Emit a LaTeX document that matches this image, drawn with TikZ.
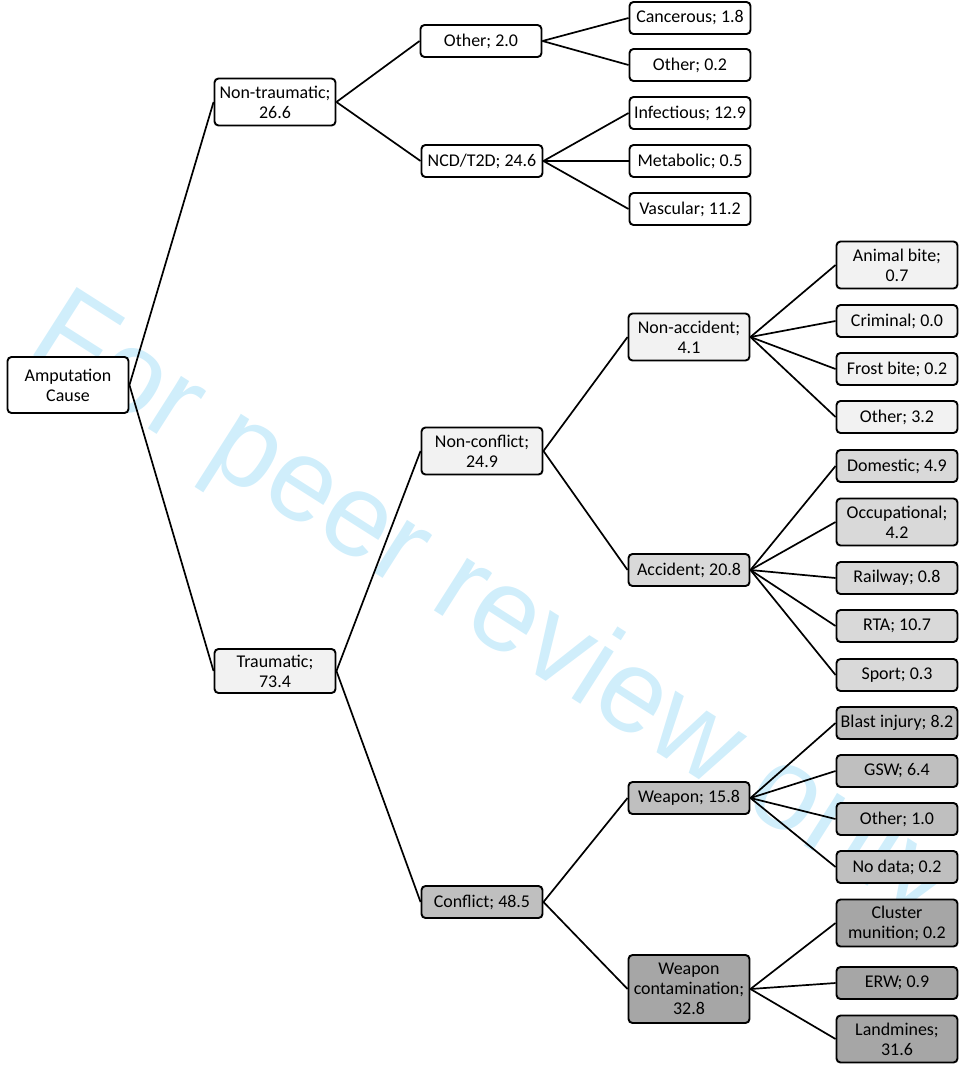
\documentclass[tikz,border=0pt]{standalone}
\usepackage{fontspec}
\setmainfont{Carlito}
\newfontfamily\wmfont{Liberation Sans}
\definecolor{wmblue}{RGB}{208,238,251}
\definecolor{gA}{RGB}{242,242,242}
\definecolor{gB}{RGB}{217,217,217}
\definecolor{gC}{RGB}{191,191,191}
\definecolor{gD}{RGB}{166,166,166}

\begin{document}
\begin{tikzpicture}
[x=1bp,y=-1bp,every node/.style={draw,rounded corners=4bp,line width=1.9bp,fill=white,
 minimum width=121bp,minimum height=32bp,inner sep=1bp,align=center,
 font=\fontsize{18}{20}\selectfont},
 two/.style={minimum height=47bp},three/.style={minimum height=68bp},
 lineA/.style={line width=1.7bp}]
\useasboundingbox (0,0) rectangle (961,1075);
\node[draw=none,fill=none,inner sep=0pt,anchor=base west,rotate=-32.5,text=wmblue,
 font=\wmfont\fontsize{118}{122}\selectfont] (wmark) at (25,350) {For peer review only};
\node[minimum height=56bp] (root) at (68,385) {Amputation\\Cause};
\node[two] (ntrau) at (275,102) {Non-traumatic;\\26.6};
\node[two,fill=gA,minimum height=44bp] (trau) at (275,671) {Traumatic;\\73.4};
\node (othA) at (481,41) {Other; 2.0};
\node (ncd) at (482,161) {NCD/T2D; 24.6};
\node (canc) at (690,18) {Cancerous; 1.8};
\node (othB) at (690,65) {Other; 0.2};
\node (infec) at (690,113) {Infectious; 12.9};
\node (metab) at (690,161) {Metabolic; 0.5};
\node (vasc) at (690,209) {Vascular; 11.2};
\node[two,fill=gA] (nconf) at (482,451) {Non-conflict;\\24.9};
\node[fill=gC] (conf) at (482,902) {Conflict; 48.5};
\node[two,fill=gA] (nacc) at (689,337) {Non-accident;\\4.1};
\node[fill=gB] (acc) at (689,570) {Accident; 20.8};
\node[fill=gC] (weap) at (689,798) {Weapon; 15.8};
\node[three,fill=gD] (wcont) at (689,989) {Weapon\\contamination;\\32.8};
\node[two,fill=gA] (anim) at (897,265) {Animal bite;\\0.7};
\node[fill=gA] (crim) at (897,321) {Criminal; 0.0};
\node[fill=gA] (frost) at (897,369) {Frost bite; 0.2};
\node[fill=gA] (othC) at (897,417) {Other; 3.2};
\node[fill=gB] (dom) at (897,466) {Domestic; 4.9};
\node[two,fill=gB] (occ) at (897,522) {Occupational;\\4.2};
\node[fill=gB] (rail) at (897,578) {Railway; 0.8};
\node[fill=gB] (rta) at (897,626) {RTA; 10.7};
\node[fill=gB] (sport) at (897,675) {Sport; 0.3};
\node[fill=gC] (blast) at (897,723) {Blast injury; 8.2};
\node[fill=gC] (gsw) at (897,771) {GSW; 6.4};
\node[fill=gC] (othD) at (897,819) {Other; 1.0};
\node[fill=gC] (nodata) at (897,867) {No data; 0.2};
\node[two,fill=gD] (clust) at (897,923) {Cluster\\munition; 0.2};
\node[fill=gD] (erw) at (897,983) {ERW; 0.9};
\node[two,fill=gD] (land) at (897,1039) {Landmines;\\31.6};
\foreach \from/\to in {root/ntrau,root/trau,ntrau/othA,ntrau/ncd,othA/canc,othA/othB,ncd/infec,ncd/metab,ncd/vasc,
 trau/nconf,trau/conf,nconf/nacc,nconf/acc,conf/weap,conf/wcont,nacc/anim,nacc/crim,nacc/frost,nacc/othC,
 acc/dom,acc/occ,acc/rail,acc/rta,acc/sport,weap/blast,weap/gsw,weap/othD,weap/nodata,wcont/clust,wcont/erw,wcont/land}
\draw[lineA] (\from.east) -- (\to.west);
\end{tikzpicture}
\end{document}
